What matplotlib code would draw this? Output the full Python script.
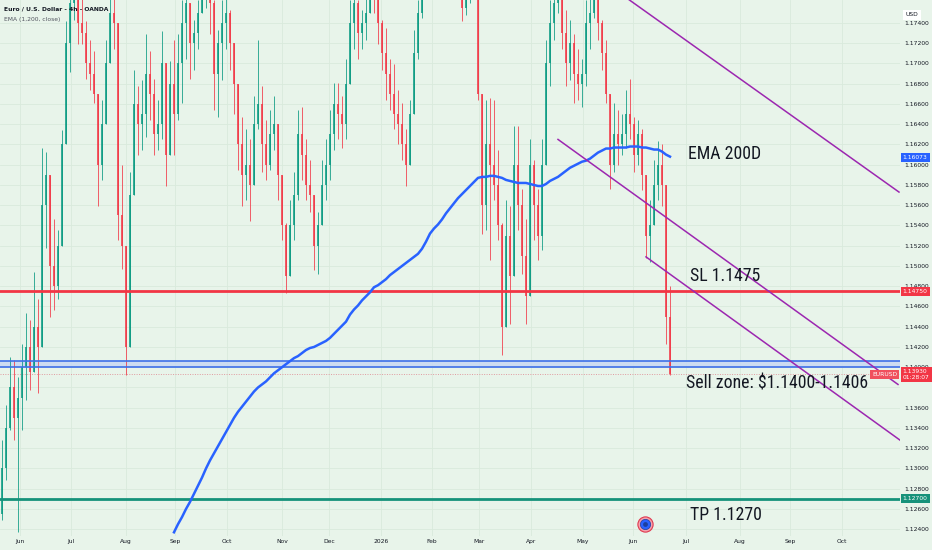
import matplotlib
matplotlib.use("Agg")
import matplotlib.pyplot as plt
from matplotlib import font_manager as fm
import numpy as np

# ---------------- data ----------------
highs = [1.1328,1.1363,1.1410,1.1407,1.1390,1.1423,1.1454,1.1447,1.1494,1.1467,
         1.1617,1.1613,1.1572,1.1546,1.1536,1.1634,1.1742,1.1783,1.1800,1.1773,
         1.1770,1.1742,1.1723,1.1712,1.1638,1.1664,1.1723,1.1773,1.1783,1.1733,
         1.1600,1.1497,1.1593,1.1694,1.1678,1.1684,1.1729,1.1712,1.1685,1.1664,
         1.1732,1.1661,1.1702,1.1723,1.1729,1.1763,1.1783,1.1753,1.1743,1.1763,
         1.1800,1.1810,1.1790,1.1763,1.1733,1.1763,1.1773,1.1753,1.1718,1.1664,
         1.1647,1.1635,1.1625,1.1668,1.1723,1.1678,1.1644,1.1654,1.1668,1.1635,
         1.1585,1.1542,1.1565,1.1593,1.1654,1.1657,1.1625,1.1605,1.1565,1.1553,
         1.1605,1.1625,1.1654,1.1681,1.1681,1.1668,1.1704,1.1763,1.1778,1.1763,
         1.1753,1.1773,1.1795,1.1790,1.1768,1.1743,1.1735,1.1704,1.1699,1.1674,
         1.1661,1.1635,1.1664,1.1733,1.1763,1.1800,1.1830,1.1850,1.1860,1.1845,
         1.1840,1.1870,1.1875,1.1855,1.1830,1.1768,1.1778,1.1800,1.1810,1.1773,
         1.1654,1.1664,1.1666,1.1664,1.1615,1.1542,1.1565,1.1559,1.1638,1.1638,
         1.1576,1.1546,1.1625,1.1605,1.1576,1.1625,1.1723,1.1763,1.1783,1.1800,
         1.1773,1.1753,1.1743,1.1729,1.1714,1.1704,1.1763,1.1773,1.1790,1.1773,
         1.1743,1.1723,1.1661,1.1661,1.1654,1.1650,1.1674,1.1685,1.1647,1.1644,
         1.1635,1.1572,1.1565,1.1605,1.1623,1.1620,1.1528,1.1480]
lows = [1.1249,1.1289,1.1338,1.1328,1.1237,1.1338,1.1368,1.1378,1.1397,1.1375,
        1.1480,1.1518,1.1450,1.1457,1.1467,1.1583,1.1681,1.1692,1.1743,1.1719,
        1.1719,1.1685,1.1674,1.1661,1.1559,1.1585,1.1644,1.1704,1.1714,1.1526,
        1.1497,1.1392,1.1526,1.1600,1.1610,1.1615,1.1627,1.1644,1.1610,1.1615,
        1.1625,1.1579,1.1627,1.1610,1.1644,1.1661,1.1704,1.1685,1.1694,1.1714,
        1.1750,1.1755,1.1729,1.1654,1.1647,1.1684,1.1714,1.1694,1.1650,1.1595,
        1.1559,1.1565,1.1544,1.1593,1.1635,1.1593,1.1585,1.1595,1.1615,1.1565,
        1.1526,1.1473,1.1506,1.1526,1.1565,1.1585,1.1565,1.1553,1.1496,1.1492,
        1.1546,1.1565,1.1585,1.1615,1.1625,1.1617,1.1625,1.1694,1.1714,1.1704,
        1.1714,1.1723,1.1755,1.1750,1.1719,1.1694,1.1664,1.1654,1.1635,1.1620,
        1.1605,1.1579,1.1605,1.1654,1.1704,1.1745,1.1775,1.1795,1.1800,1.1790,
        1.1785,1.1810,1.1820,1.1795,1.1775,1.1742,1.1748,1.1760,1.1765,1.1664,
        1.1532,1.1536,1.1506,1.1565,1.1526,1.1412,1.1447,1.1443,1.1508,1.1536,
        1.1492,1.1443,1.1526,1.1526,1.1506,1.1516,1.1644,1.1678,1.1723,1.1750,
        1.1714,1.1678,1.1684,1.1661,1.1664,1.1657,1.1678,1.1714,1.1745,1.1723,
        1.1694,1.1661,1.1576,1.1593,1.1600,1.1610,1.1617,1.1625,1.1593,1.1600,
        1.1575,1.1508,1.1504,1.1546,1.1565,1.1559,1.1423,1.1392]
closes = [1.1300,1.1340,1.1380,1.1350,1.1370,1.1400,1.1420,1.1395,1.1440,1.1420,
          1.1560,1.1590,1.1500,1.1480,1.1520,1.1620,1.1720,1.1760,1.1770,1.1740,
          1.1730,1.1700,1.1690,1.1670,1.1600,1.1640,1.1700,1.1750,1.1740,1.1550,
          1.1520,1.1420,1.1570,1.1660,1.1640,1.1650,1.1690,1.1670,1.1630,1.1640,
          1.1700,1.1610,1.1680,1.1650,1.1700,1.1740,1.1760,1.1720,1.1730,1.1750,
          1.1780,1.1790,1.1760,1.1690,1.1720,1.1740,1.1750,1.1720,1.1680,1.1620,
          1.1590,1.1600,1.1580,1.1640,1.1660,1.1620,1.1600,1.1630,1.1640,1.1590,
          1.1540,1.1490,1.1540,1.1570,1.1630,1.1610,1.1580,1.1570,1.1520,1.1540,
          1.1580,1.1600,1.1630,1.1660,1.1650,1.1640,1.1680,1.1740,1.1760,1.1730,
          1.1740,1.1750,1.1775,1.1770,1.1740,1.1710,1.1690,1.1670,1.1650,1.1640,
          1.1620,1.1600,1.1650,1.1710,1.1750,1.1785,1.1815,1.1830,1.1820,1.1810,
          1.1825,1.1850,1.1840,1.1810,1.1790,1.1755,1.1770,1.1785,1.1780,1.1670,
          1.1560,1.1620,1.1600,1.1580,1.1540,1.1440,1.1530,1.1490,1.1600,1.1560,
          1.1510,1.1470,1.1600,1.1560,1.1530,1.1600,1.1700,1.1740,1.1760,1.1780,
          1.1730,1.1700,1.1720,1.1690,1.1680,1.1690,1.1740,1.1750,1.1770,1.1740,
          1.1710,1.1670,1.1600,1.1630,1.1620,1.1630,1.1650,1.1640,1.1610,1.1630,
          1.1590,1.1530,1.1540,1.1580,1.1600,1.1580,1.1450,1.1393]
first_open = 1.1255

# EMA(1200) values, starting at the bar where the line enters the chart
ema = [1.1237,1.1245,1.1252,1.1260,1.1267,1.1275,1.1283,1.1291,1.1300,1.1308,
       1.1315,1.1322,1.1329,1.1336,1.1343,1.1350,1.1356,1.1361,1.1366,1.1371,
       1.1376,1.1380,1.1383,1.1386,1.1390,1.1394,1.1397,1.1400,1.1403,1.1406,
       1.1409,1.1411,1.1414,1.1417,1.1419,1.1420,1.1422,1.1424,1.1426,1.1429,
       1.1433,1.1437,1.1441,1.1445,1.1452,1.1457,1.1461,1.1466,1.1470,1.1474,
       1.1479,1.1481,1.1484,1.1487,1.1491,1.1494,1.1497,1.1500,1.1503,1.1506,
       1.1509,1.1512,1.1517,1.1524,1.1532,1.1537,1.1541,1.1546,1.1552,1.1557,
       1.1562,1.1567,1.1571,1.1575,1.1579,1.1583,1.1587,1.1588,1.1588,1.1589,
       1.1589,1.1588,1.1587,1.1585,1.1584,1.1583,1.1582,1.1582,1.1582,1.1581,
       1.1580,1.1579,1.1579,1.1581,1.1584,1.1586,1.1588,1.1591,1.1594,1.1597,
       1.1599,1.1601,1.1603,1.1604,1.1606,1.1609,1.1612,1.1614,1.1616,1.1616,
       1.1617,1.1617,1.1617,1.1617,1.1618,1.1618,1.1618,1.1617,1.1617,1.1616,
       1.1615,1.1615,1.1613,1.1610,1.1608]

month_labels = ["Jun","Jul","Aug","Sep","Oct","Nov","Dec","2026","Feb","Mar",
                "Apr","May","Jun","Jul","Aug","Sep","Oct"]
month_pos = [4.5,17.25,31,43.25,56.25,70,81.75,94.75,107.5,119.25,
             132.25,145.25,157.75,171,184.5,197,210]

sl_level = 1.1475
tp_level = 1.1270
zone_low, zone_high = 1.1400, 1.1406
last_price = 1.1393
ema_last = 1.16073

# trend channel lines: (bar, price) pairs
channel_lines = [
    [(156.75, 1.1763), (224.25, 1.1573)],
    [(139.0, 1.1625), (224.0, 1.1383)],
    [(161.0, 1.1509), (224.5, 1.1328)],
]

price_ticks = [round(1.124 + 0.002 * k, 3) for k in range(26)]
hidden_ticks = [1.138]   # covered by the last-price tag in the reference

# ---------------- fonts ----------------
def pick_condensed():
    prefs = ["Roboto Condensed", "Liberation Sans Narrow", "DejaVu Sans Condensed",
             "Noto Sans Condensed", "Open Sans Condensed", "Arial Narrow"]
    fl = fm.fontManager.ttflist
    for name in prefs:
        for f in fl:
            if f.name == name and f.style == "normal" and f.weight in (400, "normal", "regular"):
                return fm.FontProperties(fname=f.fname), True
    for f in fl:
        nm = f.name.lower()
        if ("condensed" in nm or "narrow" in nm or f.stretch in ("condensed", "semi-condensed")) \
                and f.style == "normal" and "bold" not in f.fname.lower() \
                and "light" not in f.fname.lower() and "italic" not in f.fname.lower():
            return fm.FontProperties(fname=f.fname), True
    return fm.FontProperties(family=["Liberation Sans", "DejaVu Sans"]), False

big_font, is_cond = pick_condensed()
big_size = 12.8 if is_cond else 11.0

# ---------------- styling ----------------
BG = "#e8f4ea"
UP = "#089981"
DN = "#f23645"
TXT = "#131722"

fig = plt.figure(figsize=(9.32, 5.5), dpi=100, facecolor=BG)
ax = fig.add_axes([0, 14 / 550, 900 / 932, 536 / 550], facecolor=BG)

n = len(closes)
x = np.arange(n)
opens = [first_open] + closes[:-1]

ymin = 1.17627 - 536 / 10125
ymax = 1.17627
ax.set_ylim(ymin, ymax)
ax.set_xlim(-0.5, 224.5)

# grid
for p in month_pos:
    ax.axvline(p, color="#d9eadc", lw=0.6, zorder=0)
for t in price_ticks:
    ax.axhline(t, color="#d9eadc", lw=0.6, zorder=0)

# candles
for i in range(n):
    o, c, h, l = opens[i], closes[i], highs[i], lows[i]
    col = UP if c >= o else DN
    top = max(h, o, c)
    bot = min(l, o, c)
    ax.vlines(x[i], bot, top, color=col, lw=0.7, alpha=0.8, zorder=2)
    ax.bar(x[i], abs(c - o) if abs(c - o) > 0.0002 else 0.0002,
           bottom=min(o, c), width=0.7, color=col, alpha=0.8,
           linewidth=0, zorder=2)

# horizontal levels
ax.axhline(sl_level, color=DN, lw=2.0, zorder=3)
ax.axhline(tp_level, color="#16927a", lw=2.0, zorder=3)
ax.axhspan(zone_low, zone_high, color="#c9d9f2", alpha=0.9, lw=0, zorder=1)
ax.axhline(zone_low, color="#3d6fe8", lw=1.2, zorder=3)
ax.axhline(zone_high, color="#3d6fe8", lw=1.2, zorder=3)
ax.axhline(last_price, color="#e09a9f", lw=0.7, ls=(0, (1, 1.5)), zorder=1)

# EMA
ema_x = x[n - len(ema):]
ax.plot(ema_x, ema, color="#2962ff", lw=1.8, zorder=4)

# channel
for (x0, y0), (x1, y1) in channel_lines:
    ax.plot([x0, x1], [y0, y1], color="#9c27b0", lw=1.1, zorder=4)

# event icon
ix, iy = 160.75, 1.1245
ax.scatter([ix], [iy], s=120, facecolor="#f4a3ad", edgecolor="#e0384f", lw=0.8, zorder=6)
ax.scatter([ix], [iy], s=55, facecolor="#2962ff", edgecolor="#1f3f9a", lw=0.5, zorder=7)
ax.scatter([ix], [iy], s=12, facecolor="#1c3f9e", lw=0, zorder=8)

# annotation texts
def note(xb, y, s):
    ax.text(xb, y, s, fontproperties=big_font, fontsize=big_size, color=TXT,
            va="center", ha="left", zorder=9)

note(171.5, 1.1611, "EMA 200D")
note(172.0, 1.1490, "SL 1.1475")
note(171.0, 1.1384, "Sell zone: $1.1400-1.1406")
note(172.0, 1.1254, "TP 1.1270")

# axes ticks
ax.yaxis.tick_right()
ax.set_yticks(price_ticks)
ax.set_yticklabels(["" if t in hidden_ticks else f"{t:.5f}" for t in price_ticks])
ax.tick_params(axis="y", length=0, pad=3, labelsize=4.3, labelcolor=TXT)
ax.set_xticks(month_pos)
ax.set_xticklabels(month_labels)
ax.tick_params(axis="x", length=0, pad=2, labelsize=4.3, labelcolor=TXT)
for s in ax.spines.values():
    s.set_visible(False)

# price tags on the right axis
ty = ax.get_yaxis_transform()
def tag(y, text, fc, fs=4.3):
    ax.text(1.003, y, text, transform=ty, fontsize=fs, color="white",
            ha="left", va="center", zorder=10, clip_on=False,
            bbox=dict(boxstyle="square,pad=0.35", fc=fc, ec="none"))

tag(ema_last, "1.16073", "#2962ff")
tag(sl_level, "1.14750", DN)
tag(tp_level, "1.12700", "#16927a")
ax.text(1.003, last_price, "1.13930\n01:28:07", transform=ty, fontsize=4.3, color="white",
        ha="left", va="center", zorder=10, clip_on=False, linespacing=1.2,
        bbox=dict(boxstyle="square,pad=0.35", fc=DN, ec="none"))
ax.text(0.997, last_price, "EURUSD", transform=ty, fontsize=4.3, color="white",
        ha="right", va="center", zorder=10, clip_on=False,
        bbox=dict(boxstyle="square,pad=0.35", fc="#f0505d", ec="none"))
ax.text(1.006, 1.1748, "USD", transform=ty, fontsize=4.3, color=TXT,
        ha="left", va="center", zorder=10, clip_on=False,
        bbox=dict(boxstyle="square,pad=0.4", fc="white", ec="none"))

# header legend
fig.text(4 / 932, 1 - 9 / 550, "Euro / U.S. Dollar - 4h - OANDA", fontsize=4.3,
         color=TXT, weight="bold", va="center", ha="left")
fig.text(4 / 932, 1 - 19 / 550, "EMA (1,200, close)", fontsize=4.3,
         color="#50535e", va="center", ha="left")

fig.savefig("out.png", dpi=100, facecolor=BG)
